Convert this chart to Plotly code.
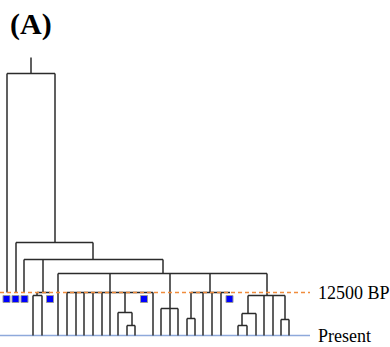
import plotly.graph_objects as go

# Tree nodes: name, x position (tip order), height above present, parent
node_name = ["root", "t1", "B", "t2", "C", "t3", "D", "E", "t4", "t5", "t6",
             "F", "t7", "G", "g1", "g2", "g3", "g4", "g5", "g6", "H", "h1", "I", "i1", "i2", "g7",
             "J", "j1", "j2", "j3",
             "K", "L", "l1", "l2", "k1", "k2", "k3", "k4",
             "M", "N", "O", "o1", "o2", "n1", "m1", "m2", "P", "p1", "p2"]
node_x = [31, 7, 55, 16, 93, 24, 43, 37, 33, 42, 50,
          163, 58, 110, 67, 76, 84, 93, 102, 110, 125, 118, 132, 127, 135, 153,
          170, 161, 170, 178,
          210, 191, 187, 195, 203, 212, 221, 230,
          267, 248, 242, 238, 247, 256, 264, 273, 285, 281, 289]
node_h = [262, 43, 93, 43, 76, 43, 43, 40, 0, 0, 43,
          62, 0, 43, 0, 0, 0, 0, 0, 0, 23, 0, 10, 0, 0, 0,
          27, 0, 0, 0,
          43, 17, 0, 0, 0, 0, 0, 43,
          40, 22, 10, 0, 0, 0, 0, 0, 16, 0, 0]
node_parent = [None, "root", "root", "B", "B", "C", "C", "D", "E", "E", "D",
               "C", "F", "F", "G", "G", "G", "G", "G", "G", "G", "H", "H", "I", "I", "G",
               "F", "J", "J", "J",
               "F", "K", "L", "L", "K", "K", "K", "K",
               "F", "M", "N", "O", "O", "N", "M", "M", "M", "P", "P"]
root_stem_top = 278

# Ancient samples at 12500 BP (blue squares)
sample_x = [6.5, 15.5, 24.5, 50, 144, 229.5]
sample_h = [36.5] * len(sample_x)

line_12500_h = 43
line_present_h = 0
line_end_x = 310
ref_labels = ["12500 BP", "Present"]
ref_label_h = [43, 0]

idx = {n: i for i, n in enumerate(node_name)}

xs, ys = [], []
# root stem
xs += [node_x[0], node_x[0], None]
ys += [root_stem_top, node_h[0], None]
for i, p in enumerate(node_parent):
    if p is None:
        continue
    j = idx[p]
    xs += [node_x[i], node_x[i], None]
    ys += [node_h[j], node_h[i], None]
# horizontals for internal nodes
for j, n in enumerate(node_name):
    kids = [i for i, p in enumerate(node_parent) if p == n]
    if kids:
        kx = [node_x[i] for i in kids]
        xs += [min(kx), max(kx), None]
        ys += [node_h[j], node_h[j], None]

fig = go.Figure()
fig.add_trace(go.Scatter(x=[0, line_end_x], y=[line_present_h] * 2, mode="lines",
                         line=dict(color="#8EA9DB", width=1.5), hoverinfo="skip"))
fig.add_trace(go.Scatter(x=xs, y=ys, mode="lines",
                         line=dict(color="#2b2b2b", width=1.5), hoverinfo="skip"))
fig.add_trace(go.Scatter(x=[0, line_end_x], y=[line_12500_h] * 2, mode="lines",
                         line=dict(color="#F08C3C", width=1.5, dash="4px,3px"), hoverinfo="skip"))
fig.add_trace(go.Scatter(x=sample_x, y=sample_h, mode="markers",
                         marker=dict(symbol="square", size=7, color="#0000FF",
                                     line=dict(color="#9a9a9a", width=1)), hoverinfo="skip"))

for t, h in zip(ref_labels, ref_label_h):
    fig.add_annotation(x=316, y=h, xref="x", yref="y", text=t, showarrow=False,
                       xanchor="left", yanchor="middle",
                       font=dict(family="Liberation Serif", size=18, color="#000"))

fig.add_annotation(x=8 / 390, y=1 - 24 / 347, xref="paper", yref="paper", text="<b>(A)</b>",
                   showarrow=False, xanchor="left", yanchor="middle",
                   font=dict(family="Liberation Serif", size=30, color="#000"))

fig.update_layout(width=390, height=347, margin=dict(l=0, r=0, t=0, b=0),
                  paper_bgcolor="white", plot_bgcolor="white", showlegend=False)
fig.update_xaxes(range=[0, 390], visible=False)
fig.update_yaxes(range=[-11.5, 335.5], visible=False)
fig.write_html("out.html")
